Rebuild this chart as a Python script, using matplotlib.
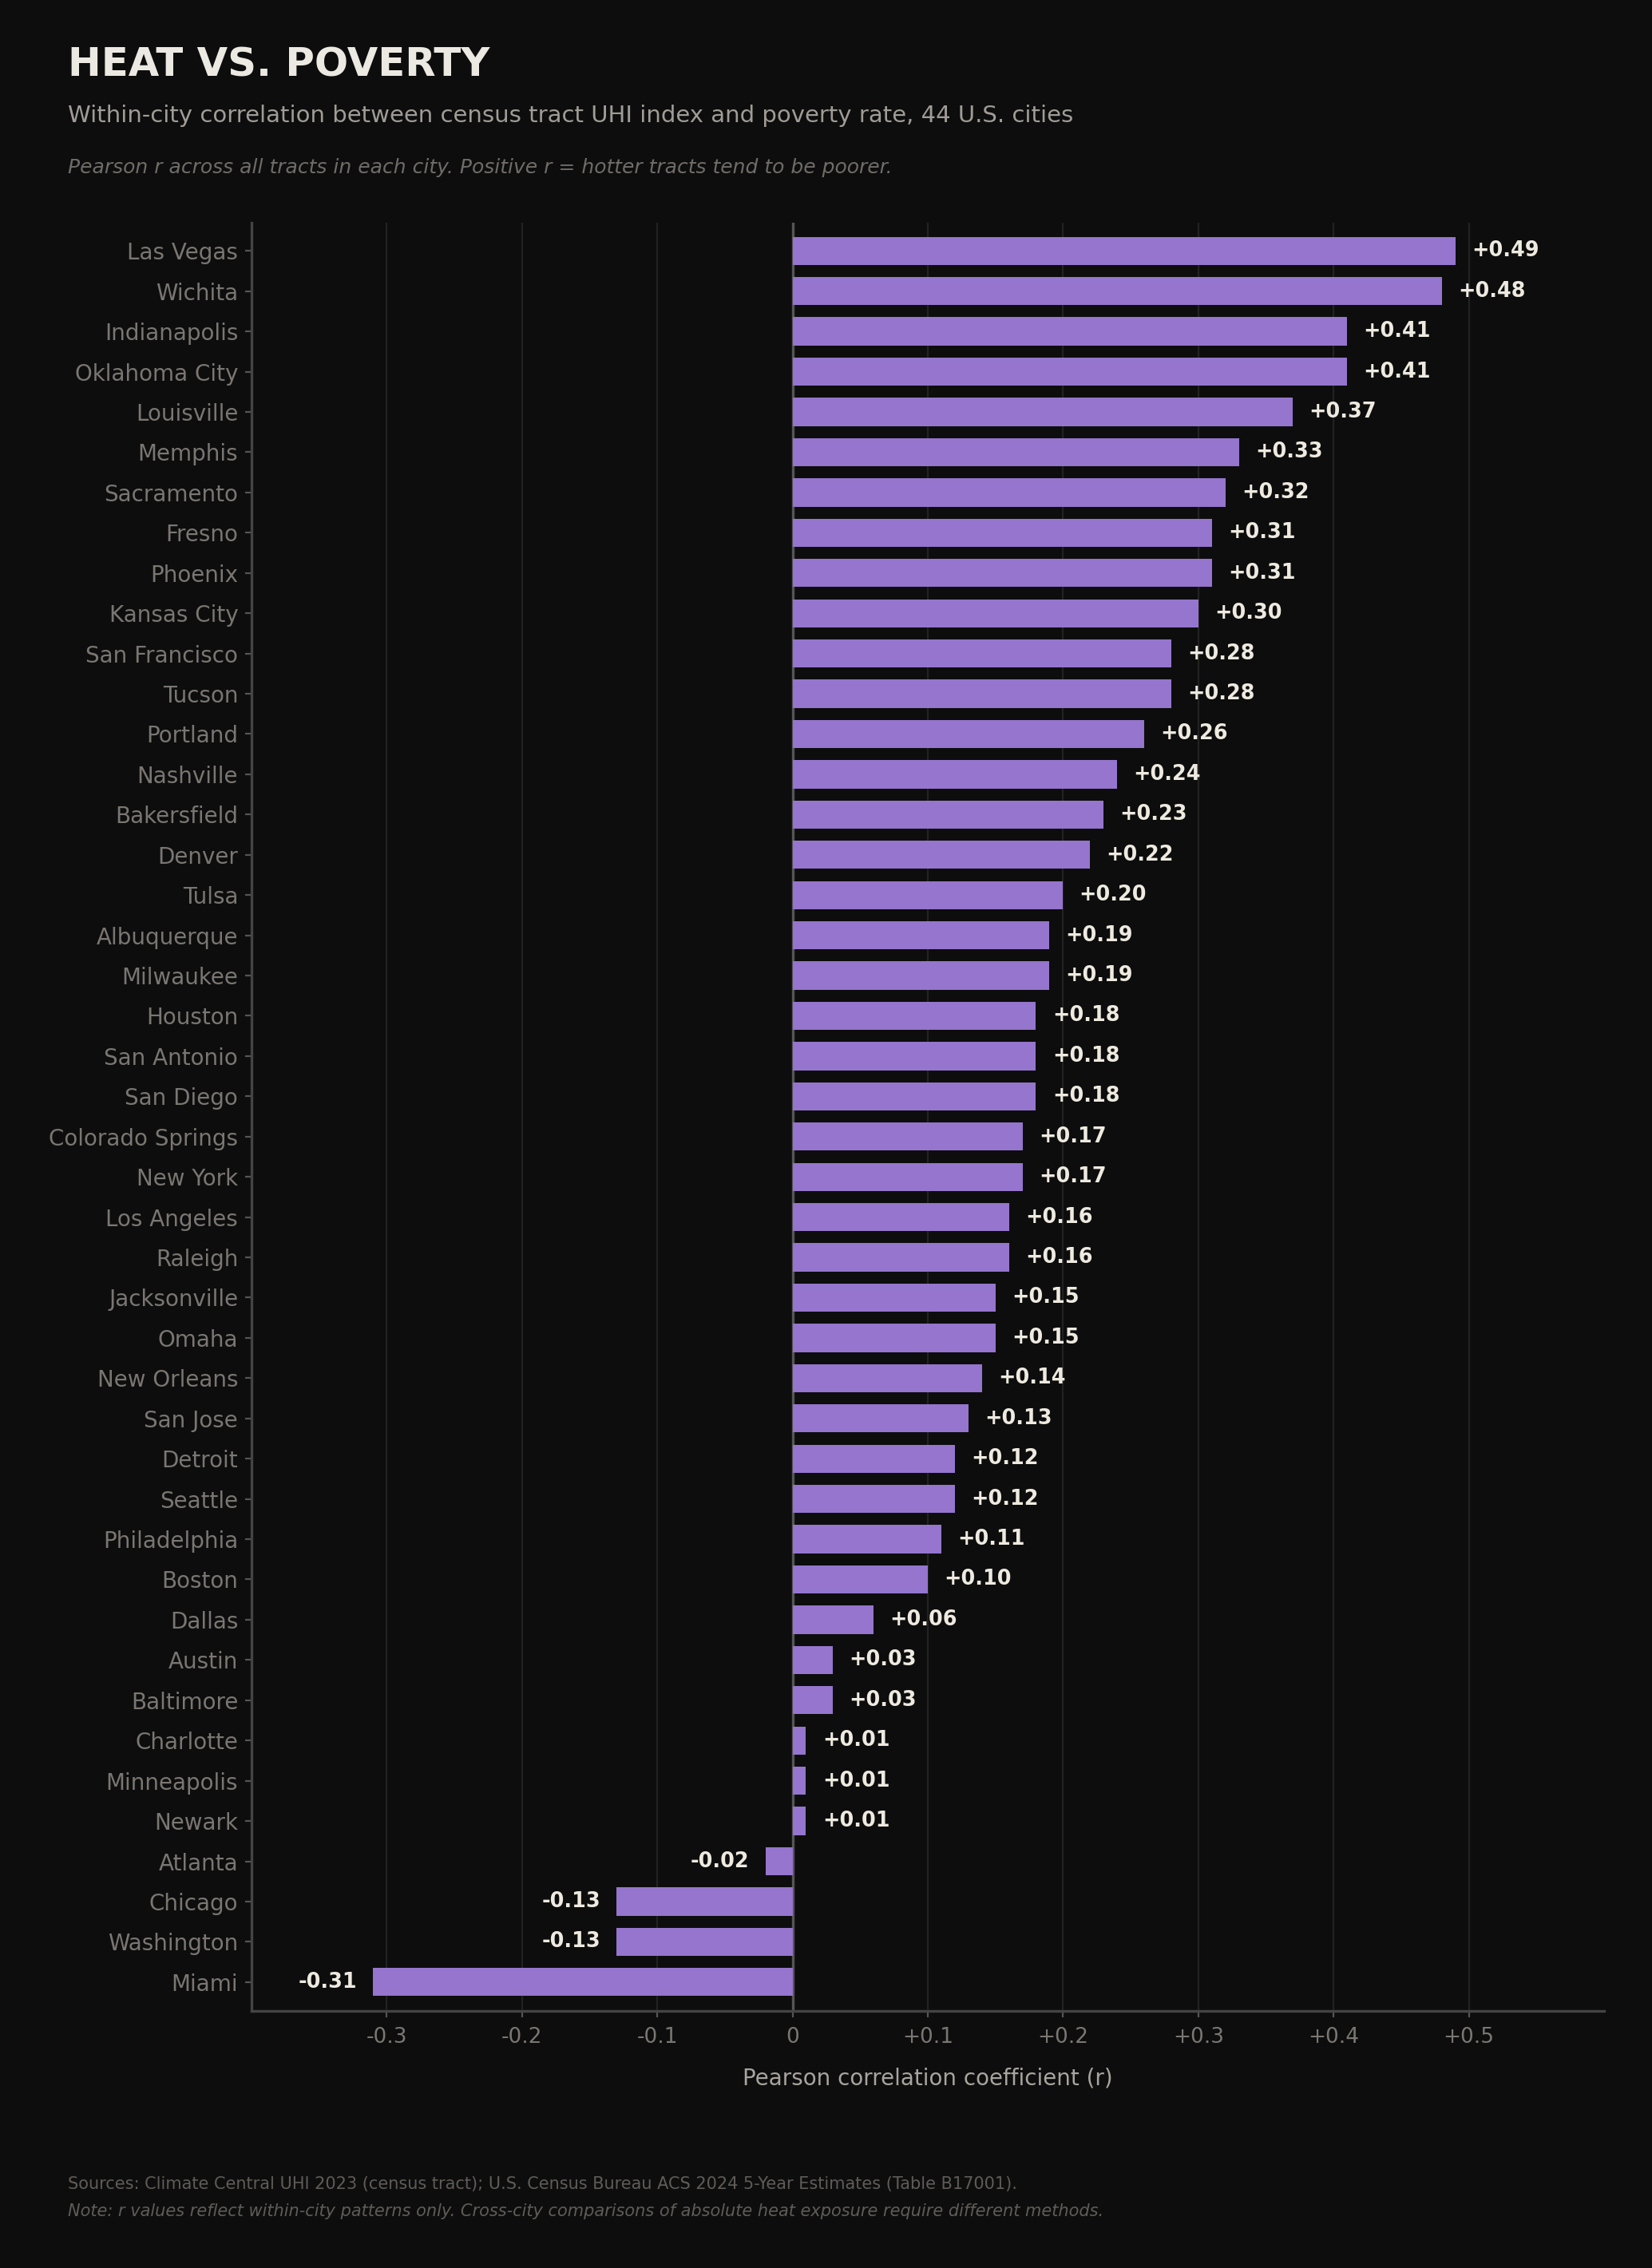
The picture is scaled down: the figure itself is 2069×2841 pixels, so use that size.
import matplotlib
matplotlib.use("Agg")
import matplotlib.pyplot as plt

cities = ["Las Vegas", "Wichita", "Indianapolis", "Oklahoma City", "Louisville",
          "Memphis", "Sacramento", "Fresno", "Phoenix", "Kansas City",
          "San Francisco", "Tucson", "Portland", "Nashville", "Bakersfield",
          "Denver", "Tulsa", "Albuquerque", "Milwaukee", "Houston",
          "San Antonio", "San Diego", "Colorado Springs", "New York", "Los Angeles",
          "Raleigh", "Jacksonville", "Omaha", "New Orleans", "San Jose",
          "Detroit", "Seattle", "Philadelphia", "Boston", "Dallas",
          "Austin", "Baltimore", "Charlotte", "Minneapolis", "Newark",
          "Atlanta", "Chicago", "Washington", "Miami"]
r_values = [0.49, 0.48, 0.41, 0.41, 0.37,
            0.33, 0.32, 0.31, 0.31, 0.30,
            0.28, 0.28, 0.26, 0.24, 0.23,
            0.22, 0.20, 0.19, 0.19, 0.18,
            0.18, 0.18, 0.17, 0.17, 0.16,
            0.16, 0.15, 0.15, 0.14, 0.13,
            0.12, 0.12, 0.11, 0.10, 0.06,
            0.03, 0.03, 0.01, 0.01, 0.01,
            -0.02, -0.13, -0.13, -0.31]
xticks = [-0.3, -0.2, -0.1, 0, 0.1, 0.2, 0.3, 0.4, 0.5]
xtick_labels = ["-0.3", "-0.2", "-0.1", "0", "+0.1", "+0.2", "+0.3", "+0.4", "+0.5"]

bg = "#0d0d0d"
bar_color = "#9575cd"

fig = plt.figure(figsize=(10.345, 14.205), dpi=200, facecolor=bg)
ax = fig.add_axes([0.1522, 0.1133, 0.971 - 0.1522, 0.9018 - 0.1133], facecolor=bg)

n = len(cities)
ypos = list(range(n))[::-1]
ax.barh(ypos, r_values, height=0.7, color=bar_color, zorder=3)

for y, v in zip(ypos, r_values):
    if v >= 0:
        ax.text(v + 0.012, y, f"+{v:.2f}", va="center", ha="left",
                fontsize=9.2, fontweight="bold", color="#eeeae0", zorder=4)
    else:
        ax.text(v - 0.012, y, f"{v:.2f}", va="center", ha="right",
                fontsize=9.2, fontweight="bold", color="#eeeae0", zorder=4)

ax.axvline(0, color="#555555", linewidth=1.2, zorder=2)

ax.set_xlim(-0.4, 0.6)
ax.set_ylim(-0.72, n - 1 + 0.7)
ax.set_yticks(ypos)
ax.set_yticklabels(cities, fontsize=10, color="#7a7672")
ax.set_xticks(xticks)
ax.set_xticklabels(xtick_labels, fontsize=9.5, color="#7a7672")
ax.tick_params(axis="both", colors="#555555", length=3, width=0.8, pad=4)
ax.tick_params(axis="y", pad=3)
for lab in ax.get_yticklabels() + ax.get_xticklabels():
    lab.set_color("#7a7672")

ax.grid(axis="x", color="#222222", linewidth=0.8, zorder=0)
for s in ["top", "right"]:
    ax.spines[s].set_visible(False)
for s in ["left", "bottom"]:
    ax.spines[s].set_color("#444444")
    ax.spines[s].set_linewidth(1.2)

ax.set_xlabel("Pearson correlation coefficient (r)", fontsize=10,
              color="#a8a49e", labelpad=9)

fig.text(85 / 2069, 1 - 82 / 2841, "HEAT VS. POVERTY", fontsize=17.9,
         fontweight="bold", color="#ece9e2", va="center", ha="left")
fig.text(85 / 2069, 1 - 145 / 2841,
         "Within-city correlation between census tract UHI index and poverty rate, 44 U.S. cities",
         fontsize=10.5, color="#a09c96", va="center", ha="left")
fig.text(85 / 2069, 1 - 210 / 2841,
         "Pearson r across all tracts in each city. Positive r = hotter tracts tend to be poorer.",
         fontsize=9, style="italic", color="#6f6c68", va="center", ha="left")
fig.text(85 / 2069, 1 - 2736 / 2841,
         "Sources: Climate Central UHI 2023 (census tract); U.S. Census Bureau ACS 2024 5-Year Estimates (Table B17001).",
         fontsize=7.5, color="#5f5c58", va="center", ha="left")
fig.text(85 / 2069, 1 - 2770 / 2841,
         "Note: r values reflect within-city patterns only. Cross-city comparisons of absolute heat exposure require different methods.",
         fontsize=7.5, style="italic", color="#5f5c58", va="center", ha="left")

fig.savefig("out.png", dpi=200, facecolor=bg)
